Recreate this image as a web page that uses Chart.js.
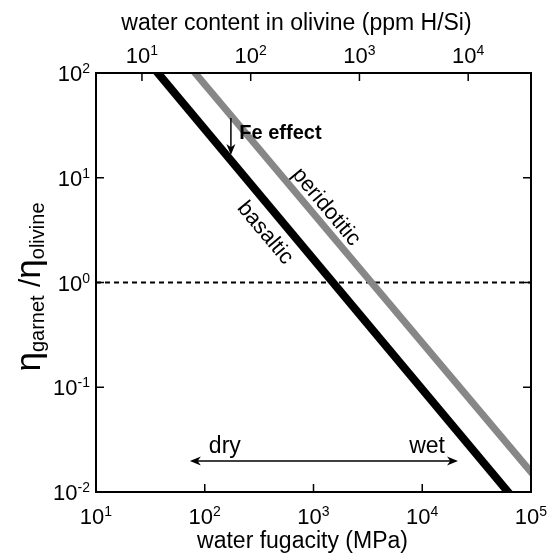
<!DOCTYPE html>
<html>
<head>
<meta charset="utf-8">
<script src="https://cdn.jsdelivr.net/npm/chart.js@4.4.0/dist/chart.umd.min.js"></script>
<style>
  html, body { margin: 0; padding: 0; background: #fff; }
  canvas { display: block; }
</style>
</head>
<body>
<canvas id="chart" width="549" height="557"></canvas>
<script>
// axis ranges and tick values
var fugacityRange = [10, 1e5];
var waterRange = [3.78, 37800];
var ratioRange = [0.01, 100];
var fugacityTicks = [1e1, 1e2, 1e3, 1e4, 1e5];
var waterTicks = [1e1, 1e2, 1e3, 1e4];
var ratioTicks = [1e-2, 1e-1, 1e0, 1e1, 1e2];

// viscosity contrast lines (run past the frame and clipped)
var basalticFugacity = [5.8, 393000];
var basalticRatio = [1000, 0.001];
var peridotiticFugacity = [12.6, 200000];
var peridotiticRatio = [1000, 0.0066];
var equalFugacity = [10, 1e5];
var equalRatio = [1, 1];

// annotations, in data units
var feArrowFugacity = 174;
var feArrowRatio = [37.2, 16.5];
var feLabel = { x: 208, y: 26.7, text: 'Fe effect' };
var dryWetRatio = 0.0198;
var dryWetFugacity = [73, 21300];
var dryLabel = { x: 153, y: 0.0236, text: 'dry' };
var wetLabel = { x: 11070, y: 0.0236, text: 'wet' };
var basalticLabel = { x: 358, y: 2.97, text: 'basaltic' };
var peridotiticLabel = { x: 1303, y: 5.26, text: 'peridotitic' };

var FONT = '"Liberation Sans", Arial, Helvetica, sans-serif';

function toPoints(xs, ys) {
    return xs.map(function(x, i) { return { x: x, y: ys[i] }; });
}

function expOf(v) {
    return String(Math.round(Math.log10(v)));
}

// "10" with a superscript exponent, cy = vertical centre of the digits
function drawPower(ctx, x, cy, exp, align) {
    ctx.font = '22px ' + FONT;
    var w1 = ctx.measureText('10').width;
    ctx.font = '14px ' + FONT;
    var w2 = ctx.measureText(exp).width;
    var start = align === 'right' ? x - w1 - w2 : x - (w1 + w2) / 2;
    ctx.textAlign = 'left';
    ctx.textBaseline = 'alphabetic';
    ctx.font = '22px ' + FONT;
    ctx.fillText('10', start, cy + 8);
    ctx.font = '14px ' + FONT;
    ctx.fillText(exp, start + w1, cy);
}

function arrowHead(ctx, x, y, angle) {
    var len = 11, half = 4.5;
    ctx.save();
    ctx.translate(x, y);
    ctx.rotate(angle);
    ctx.beginPath();
    ctx.moveTo(0, 0);
    ctx.lineTo(-len, -half);
    ctx.lineTo(-len * 0.7, 0);
    ctx.lineTo(-len, half);
    ctx.closePath();
    ctx.fill();
    ctx.restore();
}

var decorations = {
    id: 'decorations',
    afterDraw: function(chart) {
        var ctx = chart.ctx;
        var area = chart.chartArea;
        var xs = chart.scales.x, xt = chart.scales.x2, ys = chart.scales.y;
        ctx.save();
        ctx.fillStyle = '#000';
        ctx.strokeStyle = '#000';

        // frame
        ctx.lineWidth = 2;
        ctx.strokeRect(area.left, area.top, area.right - area.left, area.bottom - area.top);

        // inward ticks
        var tl = 8;
        ctx.lineWidth = 1.5;
        ctx.beginPath();
        fugacityTicks.forEach(function(v) {
            var px = xs.getPixelForValue(v);
            ctx.moveTo(px, area.bottom); ctx.lineTo(px, area.bottom - tl);
        });
        waterTicks.forEach(function(v) {
            var px = xt.getPixelForValue(v);
            ctx.moveTo(px, area.top); ctx.lineTo(px, area.top + tl);
        });
        ratioTicks.forEach(function(v) {
            var py = ys.getPixelForValue(v);
            ctx.moveTo(area.left, py); ctx.lineTo(area.left + tl, py);
            ctx.moveTo(area.right, py); ctx.lineTo(area.right - tl, py);
        });
        ctx.stroke();

        // tick labels
        fugacityTicks.forEach(function(v) {
            drawPower(ctx, xs.getPixelForValue(v), area.bottom + 24, expOf(v), 'center');
        });
        waterTicks.forEach(function(v) {
            drawPower(ctx, xt.getPixelForValue(v), area.top - 18, expOf(v), 'center');
        });
        ratioTicks.forEach(function(v) {
            drawPower(ctx, area.left - 6, ys.getPixelForValue(v), expOf(v), 'right');
        });

        // axis titles
        ctx.textAlign = 'center';
        ctx.textBaseline = 'middle';
        ctx.font = '23px ' + FONT;
        var cx = (area.left + area.right) / 2;
        ctx.fillText('water fugacity (MPa)', cx - 11, area.bottom + 50);
        ctx.fillText('water content in olivine (ppm H/Si)', cx - 17, area.top - 49);

        // y title: eta_garnet / eta_olivine
        var parts = [
            { t: '\u03b7', size: 35, dy: 0 },
            { t: 'garnet', size: 20, dy: 4 },
            { t: ' /', size: 30, dy: 0 },
            { t: '\u03b7', size: 35, dy: 0 },
            { t: 'olivine', size: 20, dy: 4 }
        ];
        var total = 0;
        parts.forEach(function(p) {
            ctx.font = p.size + 'px ' + FONT;
            p.w = ctx.measureText(p.t).width;
            total += p.w;
        });
        ctx.save();
        ctx.translate(40, 287);
        ctx.rotate(-Math.PI / 2);
        ctx.textAlign = 'left';
        ctx.textBaseline = 'alphabetic';
        var pos = -total / 2;
        parts.forEach(function(p) {
            ctx.font = p.size + 'px ' + FONT;
            ctx.fillText(p.t, pos, p.dy);
            pos += p.w;
        });
        ctx.restore();

        // Fe effect arrow
        var fx = xs.getPixelForValue(feArrowFugacity);
        var fy0 = ys.getPixelForValue(feArrowRatio[0]);
        var fy1 = ys.getPixelForValue(feArrowRatio[1]);
        ctx.lineWidth = 1.5;
        ctx.beginPath();
        ctx.moveTo(fx, fy0); ctx.lineTo(fx, fy1 - 6);
        ctx.stroke();
        arrowHead(ctx, fx, fy1, Math.PI / 2);
        ctx.font = 'bold 20px ' + FONT;
        ctx.textAlign = 'left';
        ctx.textBaseline = 'middle';
        ctx.fillText(feLabel.text, xs.getPixelForValue(feLabel.x), ys.getPixelForValue(feLabel.y));

        // dry / wet arrow
        var dy = ys.getPixelForValue(dryWetRatio);
        var dx0 = xs.getPixelForValue(dryWetFugacity[0]);
        var dx1 = xs.getPixelForValue(dryWetFugacity[1]);
        ctx.beginPath();
        ctx.moveTo(dx0 + 6, dy); ctx.lineTo(dx1 - 6, dy);
        ctx.stroke();
        arrowHead(ctx, dx0, dy, Math.PI);
        arrowHead(ctx, dx1, dy, 0);
        ctx.font = '23px ' + FONT;
        ctx.textAlign = 'center';
        ctx.textBaseline = 'alphabetic';
        [dryLabel, wetLabel].forEach(function(l) {
            ctx.fillText(l.text, xs.getPixelForValue(l.x), ys.getPixelForValue(l.y));
        });

        // rotated line labels, angle taken from the plotted line
        var ang = Math.atan2(
            ys.getPixelForValue(basalticRatio[1]) - ys.getPixelForValue(basalticRatio[0]),
            xs.getPixelForValue(basalticFugacity[1]) - xs.getPixelForValue(basalticFugacity[0])
        );
        ctx.font = '22px ' + FONT;
        ctx.textAlign = 'center';
        ctx.textBaseline = 'middle';
        [basalticLabel, peridotiticLabel].forEach(function(l) {
            ctx.save();
            ctx.translate(xs.getPixelForValue(l.x), ys.getPixelForValue(l.y));
            ctx.rotate(ang);
            ctx.fillText(l.text, 0, 0);
            ctx.restore();
        });

        ctx.restore();
    }
};

new Chart(document.getElementById('chart'), {
    type: 'scatter',
    data: {
        datasets: [
            {
                label: 'basaltic',
                data: toPoints(basalticFugacity, basalticRatio),
                showLine: true,
                borderColor: '#000000',
                borderWidth: 8,
                pointRadius: 0,
                clip: 0
            },
            {
                label: 'peridotitic',
                data: toPoints(peridotiticFugacity, peridotiticRatio),
                showLine: true,
                borderColor: '#878787',
                borderWidth: 7,
                pointRadius: 0,
                clip: 0
            },
            {
                label: 'equal viscosity',
                data: toPoints(equalFugacity, equalRatio),
                showLine: true,
                borderColor: '#000000',
                borderWidth: 2,
                borderDash: [5, 4],
                pointRadius: 0,
                clip: 0
            }
        ]
    },
    options: {
        responsive: false,
        animation: false,
        events: [],
        layout: {
            padding: { left: 96, right: 18, top: 73, bottom: 65 }
        },
        plugins: {
            legend: { display: false },
            tooltip: { enabled: false }
        },
        scales: {
            x: {
                type: 'logarithmic',
                display: false,
                min: fugacityRange[0],
                max: fugacityRange[1]
            },
            x2: {
                type: 'logarithmic',
                position: 'top',
                display: false,
                min: waterRange[0],
                max: waterRange[1]
            },
            y: {
                type: 'logarithmic',
                display: false,
                min: ratioRange[0],
                max: ratioRange[1]
            }
        }
    },
    plugins: [decorations]
});
</script>
</body>
</html>
